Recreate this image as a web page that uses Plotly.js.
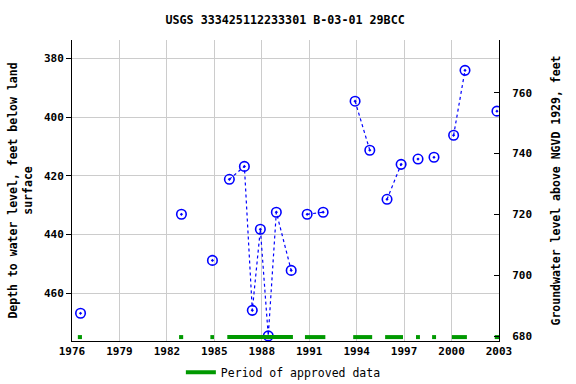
<!DOCTYPE html>
<html>
<head>
<meta charset="utf-8">
<script src="https://cdn.plot.ly/plotly-3.0.1.min.js"></script>
<style>html,body{margin:0;padding:0;background:#fff}#chart{width:576px;height:384px}</style>
</head>
<body>
<div id="chart"></div>
<script>
// Measurement dates (decimal years) and depth to water (ft below land surface)
// null entries separate unconnected runs of measurements
const years = [1976.54, null, 1982.92, null, 1984.88, null,
  1985.95, 1986.90, 1987.40, 1987.91, 1988.41, 1988.92, 1989.86, null,
  1990.87, 1991.88, null, 1993.90, 1994.83, null, 1995.92, 1996.81, null,
  1997.88, null, 1998.89, null, 2000.13, 2000.85, null, 2002.87];
const depths = [466.8, null, 433.1, null, 448.8, null,
  421.2, 416.8, 465.8, 438.2, 474.5, 432.4, 452.2, null,
  433.1, 432.4, null, 394.6, 411.3, null, 428.0, 416.1, null,
  414.3, null, 413.7, null, 406.2, 384.1, null, 398.0];

// Periods of approved data (decimal years)
const approvedStart = [1976.37, 1982.77, 1984.75, 1985.82, 1990.73, 1993.78, 1995.80, 1997.75, 1998.77, 2000.02, 2002.73];
const approvedEnd   = [1976.63, 1983.03, 1984.98, 1989.97, 1992.02, 1994.98, 1996.93, 1998.00, 1999.02, 2000.97, 2003.00];

const xTickVals = [1976, 1979, 1982, 1985, 1988, 1991, 1994, 1997, 2000, 2003];
const xTickText = ['1976', '1979', '1982', '1985', '1988', '1991', '1994', '1997', '2000', '2003'];
const leftTicks = [380, 400, 420, 440, 460];
const rightTicks = [680, 700, 720, 740, 760];

const BAR_LEVEL = 0.013;
const barX = [], barY = [];
approvedStart.forEach((s, i) => {
  barX.push(s, approvedEnd[i], null);
  barY.push(BAR_LEVEL, BAR_LEVEL, null);
});

const FONT = '"DejaVu Sans Mono", monospace';

const traces = [
  {
    x: years, y: depths, type: 'scatter', mode: 'lines+markers',
    connectgaps: false, showlegend: false, hoverinfo: 'x+y',
    line: {color: '#0000ff', width: 1.2, dash: 'dot'},
    marker: {symbol: 'circle-open-dot', size: 9.5, color: '#0000ff', line: {width: 1.6, color: '#0000ff'}}
  },
  {
    x: barX, y: barY, yaxis: 'y3', type: 'scatter', mode: 'lines',
    name: 'Period of approved data', showlegend: true, hoverinfo: 'skip',
    line: {color: '#009900', width: 4}
  },
  {
    x: [null], y: [null], yaxis: 'y2', type: 'scatter', mode: 'markers',
    showlegend: false, hoverinfo: 'skip'
  }
];

const layout = {
  width: 576, height: 384,
  margin: {l: 72, r: 77, t: 40, b: 43, autoexpand: false},
  paper_bgcolor: '#ffffff', plot_bgcolor: '#ffffff',
  font: {family: FONT, size: 11, color: '#000000'},
  title: {text: '<b>USGS 333425112233301 B-03-01 29BCC</b>', x: 0.495, xanchor: 'center', y: 0.948, yanchor: 'middle',
    font: {family: FONT, size: 11.7, color: '#000'}},
  showlegend: true,
  legend: {orientation: 'h', x: 0.495, xanchor: 'center', y: -0.056, yanchor: 'top',
    font: {family: FONT, size: 11.5, color: '#000'}, itemwidth: 30, tracegroupgap: 0},
  xaxis: {
    range: [1976, 2003], tickmode: 'array', tickvals: xTickVals,
    ticktext: xTickText.map(t => '<b>' + t + '</b>'),
    showgrid: true, gridcolor: '#cccccc', gridwidth: 1,
    showline: true, linecolor: '#000', linewidth: 1, mirror: false,
    ticks: '', zeroline: false, tickfont: {family: FONT, size: 11}, automargin: false
  },
  yaxis: {
    range: [476.24, 373.77], tickmode: 'array', tickvals: leftTicks,
    ticktext: leftTicks.map(t => '<b>' + t + '</b>'),
    showgrid: true, gridcolor: '#cccccc', gridwidth: 1,
    showline: true, linecolor: '#000', linewidth: 1,
    ticks: 'outside', ticklen: 5, tickcolor: '#000', zeroline: false,
    tickfont: {family: FONT, size: 11}, automargin: false,
    title: {text: '<b>Depth to water level, feet below land<br>surface</b>', standoff: 8,
      font: {family: FONT, size: 11.5}}
  },
  yaxis2: {
    overlaying: 'y', side: 'right', range: [678.36, 777.33],
    tickmode: 'array', tickvals: rightTicks,
    ticktext: rightTicks.map(t => '<b>' + t + '</b>'),
    showgrid: false, showline: true, linecolor: '#000', linewidth: 1,
    ticks: 'inside', ticklen: 5, tickcolor: '#000', zeroline: false,
    ticklabelstandoff: 10, automargin: false,
    tickfont: {family: FONT, size: 11},
    title: {text: '<b>Groundwater level above NGVD 1929, feet</b>', standoff: 20,
      font: {family: FONT, size: 11.5}}
  },
  yaxis3: {overlaying: 'y', range: [0, 1], visible: false, fixedrange: true}
};

Plotly.newPlot('chart', traces, layout, {displayModeBar: false, staticPlot: true});
</script>
</body>
</html>
